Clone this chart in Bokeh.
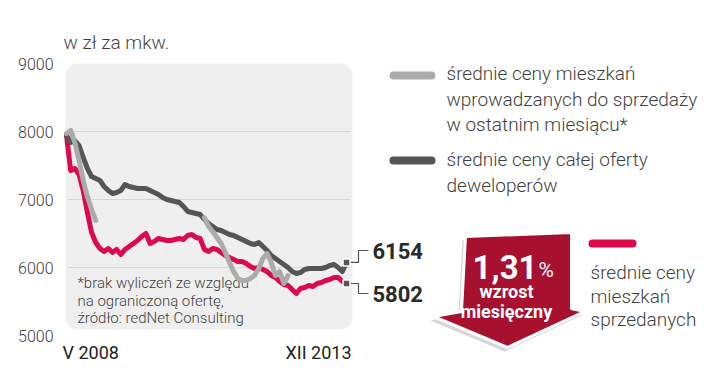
import numpy as np
from bokeh.plotting import figure
from bokeh.models import Range1d
from bokeh.core.properties import value
from bokeh.embed import file_html
from bokeh.resources import INLINE

# ---------------- data ----------------
months = list(range(68))  # V 2008 .. XII 2013
x_labels = ["V 2008", "XII 2013"]
y_ticks = [5000, 6000, 7000, 8000, 9000]
grid_vals = [6000, 7000, 8000]

sold = [7941, 7426, 7456, 7368, 7132, 6809, 6515, 6368, 6279, 6235,
        6279, 6221, 6265, 6191, 6265, 6309, 6353, 6397, 6456, 6500,
        6353, 6382, 6426, 6412, 6397, 6397, 6412, 6426, 6412, 6471,
        6485, 6441, 6426, 6265, 6235, 6279, 6265, 6221, 6176, 6147,
        6118, 6088, 6088, 6059, 6015, 5985, 6000, 5971, 5941, 5882,
        5853, 5794, 5750, 5735, 5676, 5618, 5691, 5706, 5735, 5721,
        5765, 5779, 5809, 5824, 5853, 5853, 5794, 5765]

offer = [7941, 7838, 7868, 7794, 7618, 7456, 7338, 7309, 7279, 7191,
         7132, 7088, 7103, 7132, 7221, 7191, 7176, 7162, 7162, 7162,
         7132, 7103, 7074, 7029, 7000, 6985, 6971, 6956, 6897, 6824,
         6809, 6794, 6779, 6706, 6647, 6603, 6559, 6544, 6515, 6485,
         6471, 6441, 6412, 6382, 6353, 6338, 6368, 6309, 6250, 6176,
         6132, 6088, 6044, 6000, 5941, 5912, 5926, 5971, 5985, 5985,
         5985, 5985, 6000, 6029, 6044, 6000, 5941, 6074]

nan = float("nan")
new_units = ([7971, 8015, 7838, 7574, 7279, 7044, 6853, 6691]
             + [nan] * 25
             + [6735, 6603, 6529, 6441, 6353, 6221, 6074, 5941, 5838, 5809,
                5809, 5838, 5882, 5985, 6132, 6206, 6074, 5882, 5941, 5765,
                5882]
             + [nan] * 14)

end_labels = ["6154", "5802"]
legend_gray = ["średnie ceny mieszkań", "wprowadzanych do sprzedaży", "w ostatnim miesiącu*"]
legend_dark = ["średnie ceny całej oferty", "deweloperów"]
legend_red = ["średnie ceny", "mieszkań", "sprzedanych"]
note_lines = ["*brak wyliczeń ze względu", "na ograniczoną ofertę,", "źródło: redNet Consulting"]
title = "w zł za mkw."
badge_big = "1,31"
badge_pct = "%"
badge_lines = ["wzrost", "miesięczny"]

# ---------------- geometry helpers ----------------
PXM = 280 / 67.0        # pixels per month
PXV = 68 / 1000.0       # pixels per zł


def mx(px):
    return (px - 66) / PXM


def vy(py):
    return 9000 - (py - 63) / PXV


RED = "#dc0a4c"
DARK = "#555555"
LIGHT = "#ababab"
TXT = "#3f3f3f"
FONT = value("Roboto")
LFONT = value("Roboto Light")

p = figure(width=720, height=378, output_backend="svg", toolbar_location=None,
           x_range=Range1d(mx(0), mx(720)), y_range=Range1d(vy(378), vy(0)),
           x_axis_location=None, y_axis_location=None, min_border=0,
           background_fill_color="white", border_fill_color="white")
p.grid.visible = False
p.outline_line_color = None

# plot background (rounded)
p.quad(left=[mx(65)], right=[mx(352)], top=[vy(63)], bottom=[vy(329)],
       fill_color="#efefef", line_color=None, border_radius=12)

# gridlines
p.segment(x0=[mx(67)] * len(grid_vals), x1=[mx(350)] * len(grid_vals),
          y0=grid_vals, y1=grid_vals, line_color="#d6d6d6", line_width=1)

# y tick labels
p.text(x=[mx(53)] * len(y_ticks), y=y_ticks, text=[str(t) for t in y_ticks],
       text_align="right", text_baseline="middle", text_font=LFONT,
       text_font_size="16px", text_color="#444444")

# x labels
p.text(x=[months[0], months[-1]], y=[vy(352)] * 2, text=x_labels,
       x_offset=[-4, 5], text_align=["left", "right"], text_baseline="middle",
       text_font=FONT, text_font_size="18px", text_color="#222222")

# title
p.text(x=[mx(63)], y=[vy(42)], text=[title], text_align="left",
       text_baseline="middle", text_font=LFONT, text_font_size="19px",
       text_color=TXT)

# footnote
p.text(x=[mx(77)] * 3, y=[vy(282), vy(300), vy(317)], text=note_lines,
       text_align="left", text_baseline="middle", text_font=LFONT,
       text_font_size="15px", text_color=TXT)

# data lines
p.line(months, sold, line_color=RED, line_width=5, line_join="round", line_cap="round")
p.line(months, offer, line_color=DARK, line_width=5, line_join="round", line_cap="round")
p.line(months, new_units, line_color=LIGHT, line_width=5, line_join="round", line_cap="round")

# end markers + connectors
last_m = months[-1]
ends = [offer[-1], sold[-1]]
label_py = [250, 293]
for val, lpy in zip(ends, label_py):
    xs = [last_m, mx(358), mx(358), mx(368)]
    ys = [val, val, vy(lpy), vy(lpy)]
    p.line(xs, ys, line_color=DARK, line_width=1.2)
p.scatter([last_m] * 2, ends, marker="square", size=7, fill_color=DARK,
          line_color="white", line_width=1.5)
p.text(x=[mx(372)] * 2, y=[vy(y) for y in label_py], text=end_labels,
       text_align="left", text_baseline="middle", text_font=FONT,
       text_font_style="bold", text_font_size="22px", text_color="#2a2a2a")

# legend (gray + dark)
p.line([mx(393), mx(431)], [vy(75)] * 2, line_color=LIGHT, line_width=8, line_cap="round")
p.line([mx(393), mx(431)], [vy(160)] * 2, line_color=DARK, line_width=8, line_cap="round")
p.text(x=[mx(446)] * 3, y=[vy(73), vy(99), vy(124)], text=legend_gray,
       text_align="left", text_baseline="middle", text_font=LFONT,
       text_font_size="19px", text_color=TXT)
p.text(x=[mx(446)] * 2, y=[vy(159), vy(185)], text=legend_dark,
       text_align="left", text_baseline="middle", text_font=LFONT,
       text_font_size="19px", text_color=TXT)

# legend red
p.line([mx(592), mx(632)], [vy(243)] * 2, line_color=RED, line_width=8, line_cap="round")
p.text(x=[mx(590)] * 3, y=[vy(272), vy(296), vy(319)], text=legend_red,
       text_align="left", text_baseline="middle", text_font=LFONT,
       text_font_size="19px", text_color=TXT)

# arrow badge
arrow_px = [(465, 236), (571, 232), (571, 308), (584, 311), (507, 347), (433, 316), (461, 311)]
p.patch([mx(a) - 3 / PXM for a, b in arrow_px], [vy(b + 4) for a, b in arrow_px],
        fill_color="#999999", fill_alpha=0.4, line_color=None)
p.patch([mx(a) for a, b in arrow_px], [vy(b) for a, b in arrow_px],
        fill_color="#a8102f", line_color="white", line_width=3, line_join="round")
p.text(x=[mx(537)], y=[vy(266)], text=[badge_big], text_align="right",
       text_baseline="middle", text_font=FONT, text_font_style="bold",
       text_font_size="33px", text_color="white")
p.text(x=[mx(538)], y=[vy(269)], text=[badge_pct], text_align="left",
       text_baseline="middle", text_font=FONT,
       text_font_size="21px", text_color="white")
p.text(x=[mx(506)] * 2, y=[vy(291), vy(311)], text=badge_lines,
       text_align="center", text_baseline="middle", text_font=FONT,
       text_font_style="bold", text_font_size="18px", text_color="white")

open("out.html", "w").write(file_html(p, INLINE))
